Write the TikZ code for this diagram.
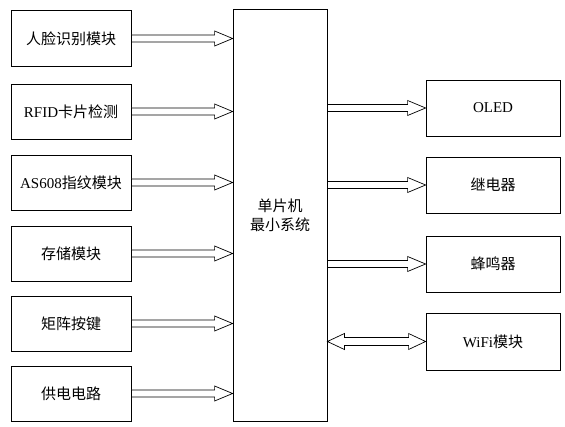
\documentclass[tikz,border=0pt]{standalone}
\usepackage{fontspec}
\setmainfont{Liberation Serif}
\newfontfamily\cjk{Noto Sans CJK SC}
\usetikzlibrary{calc}
\tikzset{
  blk/.style={draw=black, line width=0.8pt, minimum width=120pt, minimum height=56pt, inner sep=0pt, font=\fontsize{15pt}{18pt}\selectfont},
  rblk/.style={blk, minimum width=134pt},
  arr/.style={draw=black, line width=0.7pt, fill=white}
}
\newcommand\rarw[3]{%
  \draw[arr] let \p1=(#1.east), \p2=(#2.west), \p3=(#3.center) in
    (\x1,\y3+3.5pt) -- (\x2-18pt,\y3+3.5pt) -- (\x2-18pt,\y3+7.5pt) -- (\x2,\y3)
    -- (\x2-18pt,\y3-7.5pt) -- (\x2-18pt,\y3-3.5pt) -- (\x1,\y3-3.5pt) -- cycle;}
\newcommand\darw[3]{%
  \draw[arr] let \p1=(#1.east), \p2=(#2.west), \p3=(#3.center) in
    (\x1,\y3) -- (\x1+17pt,\y3+8pt) -- (\x1+17pt,\y3+4pt) -- (\x2-17pt,\y3+4pt)
    -- (\x2-17pt,\y3+8pt) -- (\x2,\y3) -- (\x2-17pt,\y3-8pt) -- (\x2-17pt,\y3-4pt)
    -- (\x1+17pt,\y3-4pt) -- (\x1+17pt,\y3-8pt) -- cycle;}
\begin{document}
\begin{tikzpicture}[x=1pt,y=-1pt]
\useasboundingbox[fill=white] (0,0) rectangle (565,427);
% left column
\node[blk] (face) at (71,38.5) {\cjk 人脸识别模块};
\node[blk, minimum height=55pt] (rfid) at (71,111.5) {RFID{\cjk 卡片检测}};
\node[blk, minimum height=55pt] (fp) at (71,182.5) {AS608{\cjk 指纹模块}};
\node[blk, minimum height=55pt] (mem) at (71,253.5) {\cjk 存储模块};
\node[blk, minimum height=55pt] (key) at (71,323.5) {\cjk 矩阵按键};
\node[blk, minimum height=55pt] (pwr) at (71,393.5) {\cjk 供电电路};
% centre
\node[draw=black, line width=0.8pt, minimum width=94pt, minimum height=412pt, inner sep=0pt,
      align=center, font=\fontsize{15pt}{19pt}\selectfont\cjk] (mcu) at (280,215) {单片机\\最小系统};
% right column
\node[rblk] (oled) at (493,108) {OLED};
\node[rblk] (relay) at (493,185) {\cjk 继电器};
\node[rblk] (buzz) at (493,264) {\cjk 蜂鸣器};
\node[rblk, minimum height=57pt] (wifi) at (493,341.5) {WiFi{\cjk 模块}};
% arrows
\rarw{face}{mcu}{face}
\rarw{rfid}{mcu}{rfid}
\rarw{fp}{mcu}{fp}
\rarw{mem}{mcu}{mem}
\rarw{key}{mcu}{key}
\rarw{pwr}{mcu}{pwr}
\rarw{mcu}{oled}{oled}
\rarw{mcu}{relay}{relay}
\rarw{mcu}{buzz}{buzz}
\darw{mcu}{wifi}{wifi}
\end{tikzpicture}
\end{document}
